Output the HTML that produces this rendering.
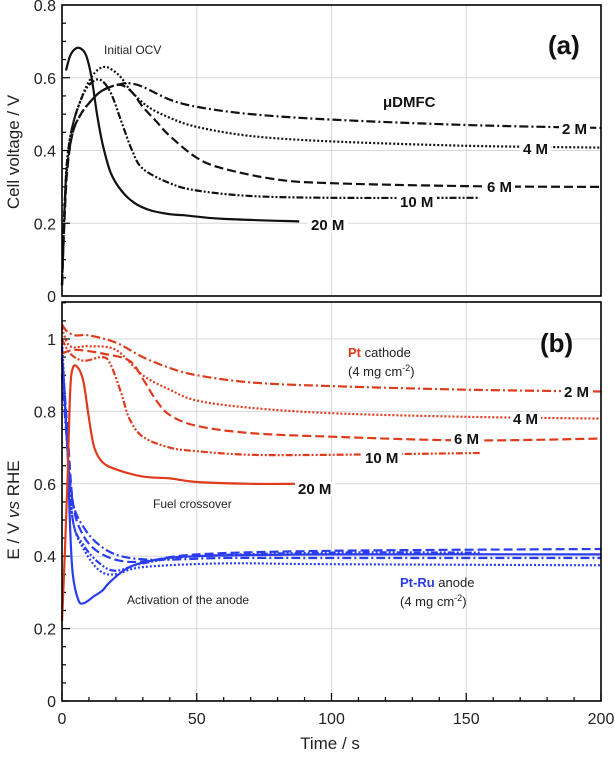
<!DOCTYPE html>
<html><head><meta charset="utf-8">
<style>
html,body{margin:0;padding:0;background:#fff;}
svg text{font-family:"Liberation Sans",Arial,sans-serif;}
</style></head>
<body>
<svg id="chart" width="615" height="754" viewBox="0 0 615 754" xmlns="http://www.w3.org/2000/svg"></svg>
<script>
// ---------- data ----------
const xTicks = [0, 50, 100, 150, 200];
const yTicksA = [0, 0.2, 0.4, 0.6, 0.8];
const yTicksB = [0, 0.2, 0.4, 0.6, 0.8, 1];
const concLabels = ["2 M", "4 M", "6 M", "10 M", "20 M"];

// Panel (a) cell voltage
const a2M_t = [0,1,2,4,7,10,14,18,22,25,30,40,50,70,100,150,200];
const a2M_v = [0.03,0.25,0.36,0.45,0.5,0.53,0.56,0.575,0.583,0.585,0.575,0.54,0.52,0.5,0.485,0.47,0.462];
const a4M_t = [0,1,2,4,7,10,13,16,19,22,26,32,40,50,70,100,150,200];
const a4M_v = [0.03,0.25,0.38,0.47,0.54,0.59,0.62,0.63,0.62,0.6,0.56,0.52,0.49,0.465,0.44,0.425,0.413,0.408];
const a6M_t = [0,1,2,4,7,10,14,18,22,26,30,35,40,50,60,80,100,150,200];
const a6M_v = [0.03,0.22,0.35,0.45,0.5,0.53,0.56,0.575,0.58,0.56,0.52,0.48,0.44,0.38,0.35,0.32,0.31,0.302,0.3];
const a10M_t = [0,1,2,4,7,10,14,18,22,26,30,40,50,70,100,155];
const a10M_v = [0.03,0.25,0.38,0.47,0.54,0.58,0.595,0.56,0.48,0.4,0.35,0.31,0.29,0.275,0.27,0.27];
const a20M_t = [1.5,3,5,7,9,11,13,15,18,22,27,33,40,45,60,88];
const a20M_v = [0.62,0.66,0.68,0.68,0.66,0.6,0.5,0.42,0.34,0.29,0.255,0.235,0.225,0.222,0.212,0.205];

// Panel (b) cathode (red)
const c2M_t = [0,2,5,10,20,30,40,50,70,100,150,200];
const c2M_v = [1.04,1.02,1.01,1.01,0.99,0.95,0.92,0.9,0.88,0.87,0.86,0.855];
const c4M_t = [0,3,10,20,30,40,50,70,100,150,200];
const c4M_v = [1.03,0.98,0.98,0.97,0.9,0.86,0.83,0.81,0.795,0.785,0.78];
const c6M_t = [0,5,15,25,30,35,40,50,70,100,150,200];
const c6M_v = [0.96,0.97,0.96,0.94,0.89,0.83,0.79,0.76,0.74,0.73,0.72,0.725];
const c10M_t = [0,3,8,15,18,22,25,30,40,50,70,100,155];
const c10M_v = [1.0,0.96,0.94,0.95,0.93,0.85,0.78,0.73,0.7,0.69,0.68,0.68,0.685];
const c20M_t = [0,1,2,3,4,6,8,10,12,15,20,30,40,50,70,87];
const c20M_v = [0.22,0.4,0.6,0.85,0.92,0.92,0.88,0.78,0.7,0.66,0.64,0.62,0.615,0.605,0.6,0.6];

// Panel (b) anode (blue)
const n2M_t = [0,2,4,8,14,22,35,60,100,200];
const n2M_v = [0.9,0.7,0.55,0.48,0.43,0.4,0.39,0.395,0.395,0.395];
const n4M_t = [0,2,4,8,14,20,30,60,100,200];
const n4M_v = [1.0,0.7,0.5,0.42,0.36,0.35,0.37,0.38,0.378,0.375];
const n6M_t = [0,2,4,7,12,20,30,50,100,200];
const n6M_v = [0.95,0.75,0.55,0.47,0.42,0.39,0.385,0.405,0.415,0.42];
const n10M_t = [0,2,4,8,14,20,30,50,100,155];
const n10M_v = [0.98,0.7,0.5,0.43,0.38,0.36,0.38,0.4,0.41,0.41];
const n20M_t = [0,2,3,4,6,8,12,15,18,25,35,50,100,200];
const n20M_v = [0.95,0.7,0.48,0.35,0.28,0.27,0.29,0.305,0.33,0.37,0.39,0.4,0.405,0.405];

// ---------- helpers ----------
const NS = "http://www.w3.org/2000/svg";
const svg = document.getElementById("chart");
const X0 = 62, X1 = 601;
const xs = t => X0 + (t / 200) * (X1 - X0);
const A_TOP = 5, A_BOT = 296;
const yA = v => A_BOT - v / 0.8 * (A_BOT - A_TOP);
const B_TOP = 302, B_BOT = 701;
const yB = v => B_BOT - v * 362;

function mk(tag, attrs, parent) {
  const el = document.createElementNS(NS, tag);
  for (const k in attrs) el.setAttribute(k, attrs[k]);
  (parent || svg).appendChild(el);
  return el;
}
function txt(x, y, s, size, opts, name) {
  const el = mk("text", Object.assign({x: x, y: y, "font-size": size, fill: "#111"}, opts || {}));
  el.textContent = s;
  
  
  return el;
}
const dashes = {
  "2 M": "9,3,2,3",
  "4 M": "2,2",
  "6 M": "9,4",
  "10 M": "7,2,2,2,2,2",
  "20 M": ""
};
function smoothPath(pts) {
  let d = "M" + pts[0][0].toFixed(1) + "," + pts[0][1].toFixed(1);
  for (let i = 0; i < pts.length - 1; i++) {
    const p0 = pts[Math.max(0, i - 1)], p1 = pts[i], p2 = pts[i + 1], p3 = pts[Math.min(pts.length - 1, i + 2)];
    const c1x = p1[0] + (p2[0] - p0[0]) / 6, c1y = p1[1] + (p2[1] - p0[1]) / 6;
    const c2x = p2[0] - (p3[0] - p1[0]) / 6, c2y = p2[1] - (p3[1] - p1[1]) / 6;
    d += " C" + c1x.toFixed(1) + "," + c1y.toFixed(1) + " " + c2x.toFixed(1) + "," + c2y.toFixed(1) + " " + p2[0].toFixed(1) + "," + p2[1].toFixed(1);
  }
  return d;
}
function series(ts, vs, yf, color, conc, name) {
  const pts = ts.map((t, i) => [xs(t), yf(vs[i])]);
  const p = mk("path", {d: smoothPath(pts), fill: "none", stroke: color, "stroke-width": 2.2, "stroke-dasharray": dashes[conc]});
  
  
}
function panel(top, bot, yf, yTicks, yMax, pname) {
  xTicks.forEach(t => {
    if (t > 0 && t < 200) {
      const g = mk("line", {x1: xs(t), x2: xs(t), y1: top, y2: bot, stroke: "#d8d8d8", "stroke-width": 1});
      
      
    }
  });
  yTicks.forEach(v => {
    const y = yf(v);
    if (y > top + 1 && y < bot - 1) {
      const g = mk("line", {x1: X0, x2: X1, y1: y, y2: y, stroke: "#d8d8d8", "stroke-width": 1});
      
      
    }
  });
  for (let v = 0; v <= yMax + 1e-9; v += 0.05) {
    const y = yf(v);
    if (y < top) continue;
    const major = Math.abs(v / 0.2 - Math.round(v / 0.2)) < 1e-6;
    const tk = mk("line", {x1: X0, x2: X0 + (major ? 8 : 4), y1: y, y2: y, stroke: "#000", "stroke-width": 1.2});
    
    
  }
  yTicks.forEach(v => {
    txt(X0 - 6, yf(v) + 6, String(v), 16, {"text-anchor": "end", fill: "#222"}, pname + "-y-tick-label");
  });
}

// ---------- panel (a) ----------
panel(A_TOP, A_BOT, yA, yTicksA, 0.8, "panel-a");
series(a2M_t, a2M_v, yA, "#111", "2 M", "a-series-2m");
series(a4M_t, a4M_v, yA, "#111", "4 M", "a-series-4m");
series(a6M_t, a6M_v, yA, "#111", "6 M", "a-series-6m");
series(a10M_t, a10M_v, yA, "#111", "10 M", "a-series-10m");
series(a20M_t, a20M_v, yA, "#111", "20 M", "a-series-20m");
const fa = mk("rect", {x: X0, y: A_TOP, width: X1 - X0, height: A_BOT - A_TOP, fill: "none", stroke: "#000", "stroke-width": 1.6});



function conclabel(x, y, s, name) {
  const r = mk("rect", {x: x - 3, y: y - 12, width: s.length * 9 + 4, height: 15, fill: "#fff"});
  
  
  txt(x, y, s, 15, {"font-weight": "bold"}, name);
}
conclabel(562, 134, "2 M", "a-label-2m");
conclabel(523, 154, "4 M", "a-label-4m");
conclabel(487, 192, "6 M", "a-label-6m");
conclabel(400, 207, "10 M", "a-label-10m");
conclabel(311, 230, "20 M", "a-label-20m");
txt(104, 54, "Initial OCV", 12, {fill: "#222"}, "initial-ocv-annotation");
txt(383, 107, "μDMFC", 15, {"font-weight": "bold"}, "udmfc-label");
txt(548, 54, "(a)", 26, {"font-weight": "bold"}, "panel-a-tag");
txt(0, 0, "Cell voltage / V", 17, {transform: "translate(19,152) rotate(-90)", "text-anchor": "middle", fill: "#222"}, "y-axis-title-a");

// ---------- panel (b) ----------
panel(B_TOP, B_BOT, yB, yTicksB, 1.1, "panel-b");
for (let t = 0; t <= 200; t += 10) {
  const major = t % 50 === 0;
  const tk = mk("line", {x1: xs(t), x2: xs(t), y1: B_BOT, y2: B_BOT - (major ? 8 : 4), stroke: "#000", "stroke-width": 1.2});
  
  
}
xTicks.forEach(t => txt(xs(t), 724, String(t), 16, {"text-anchor": "middle", fill: "#222"}, "x-tick-label"));
txt(330, 749, "Time / s", 17, {"text-anchor": "middle", fill: "#222"}, "x-axis-title");

const RED = "#e03a1c", BLUE = "#2a3cf0";
series(n2M_t, n2M_v, yB, BLUE, "2 M", "anode-series-2m");
series(n4M_t, n4M_v, yB, BLUE, "4 M", "anode-series-4m");
series(n6M_t, n6M_v, yB, BLUE, "6 M", "anode-series-6m");
series(n10M_t, n10M_v, yB, BLUE, "10 M", "anode-series-10m");
series(n20M_t, n20M_v, yB, BLUE, "20 M", "anode-series-20m");
series(c2M_t, c2M_v, yB, RED, "2 M", "cathode-series-2m");
series(c4M_t, c4M_v, yB, RED, "4 M", "cathode-series-4m");
series(c6M_t, c6M_v, yB, RED, "6 M", "cathode-series-6m");
series(c10M_t, c10M_v, yB, RED, "10 M", "cathode-series-10m");
series(c20M_t, c20M_v, yB, RED, "20 M", "cathode-series-20m");
const fb = mk("rect", {x: X0, y: B_TOP, width: X1 - X0, height: B_BOT - B_TOP, fill: "none", stroke: "#000", "stroke-width": 1.6});



conclabel(564, 397, "2 M", "b-label-2m");
conclabel(513, 424, "4 M", "b-label-4m");
conclabel(454, 444, "6 M", "b-label-6m");
conclabel(365, 463, "10 M", "b-label-10m");
conclabel(298, 494, "20 M", "b-label-20m");
txt(540, 352, "(b)", 26, {"font-weight": "bold"}, "panel-b-tag");

const ct = txt(348, 357, "", 13, {fill: "#222"}, "pt-cathode-label");
ct.innerHTML = '<tspan fill="' + RED + '" font-weight="bold">Pt</tspan> cathode';
const cl = txt(348, 376, "", 13, {fill: "#222"}, "cathode-loading-label");
cl.innerHTML = '(4 mg cm<tspan dy="-5" font-size="9">-2</tspan><tspan dy="5">)</tspan>';
const at = txt(400, 587, "", 13, {fill: "#222"}, "ptru-anode-label");
at.innerHTML = '<tspan fill="' + BLUE + '" font-weight="bold">Pt-Ru</tspan> anode';
const al = txt(400, 606, "", 13, {fill: "#222"}, "anode-loading-label");
al.innerHTML = '(4 mg cm<tspan dy="-5" font-size="9">-2</tspan><tspan dy="5">)</tspan>';
txt(153, 508, "Fuel crossover", 12, {fill: "#222"}, "fuel-crossover-annotation");
txt(127, 604, "Activation of the anode", 12, {fill: "#222"}, "anode-activation-annotation");

const yt = txt(0, 0, "", 17, {transform: "translate(19,510) rotate(-90)", "text-anchor": "middle", fill: "#222"}, "y-axis-title-b");
yt.innerHTML = 'E / V <tspan font-style="italic">vs</tspan> RHE';
</script>
</body></html>
